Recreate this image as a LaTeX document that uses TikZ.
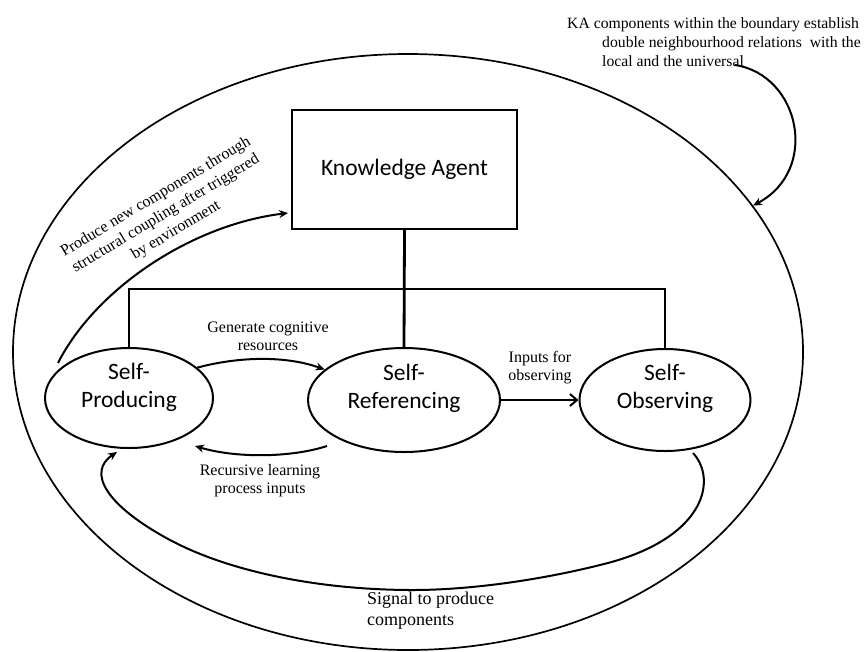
\documentclass[tikz,border=0pt]{standalone}
\usepackage{fontspec}
\setmainfont{Liberation Serif}
\newfontfamily\calfont{Carlito}
\usetikzlibrary{shapes.geometric,arrows.meta}

\begin{document}
\begin{tikzpicture}[x=1pt,y=-1pt,
  every node/.style={inner sep=0pt},
  stage/.style={ellipse,draw,line width=2pt},
  stagetext/.style={font=\calfont\fontsize{23.5}{28}\selectfont,align=center},
  agentbox/.style={draw,line width=2pt,font=\calfont\fontsize{23.5}{28}\selectfont},
  note/.style={font=\fontsize{16}{18}\selectfont,align=center},
  flow/.style={line width=2pt,-{Stealth[length=9pt,width=8pt]}},
  link/.style={line width=2pt}]
\useasboundingbox (0,0) rectangle (866,651);

% system boundary
\node[ellipse,draw,line width=1.7pt,minimum width=790pt,minimum height=596pt] (boundary) at (408,352) {};

% agent and its three components
\node[agentbox,minimum width=225pt,minimum height=119pt] (ka) at (404.5,169.5) {Knowledge Agent};
\node[stage,minimum width=168pt,minimum height=100pt] (sp) at (129,398) {};
\node[stage,minimum width=192pt,minimum height=104pt] (sr) at (404,400) {};
\node[stage,minimum width=171pt,minimum height=102pt] (so) at (665,400) {};
\node[stagetext] (sp-text) at ([yshift=11pt]sp.center) {Self-\\Producing};
\node[stagetext] (sr-text) at ([yshift=12pt]sr.center) {Self-\\Referencing};
\node[stagetext] (so-text) at ([yshift=12pt]so.center) {Self-\\Observing};

% tree joining the agent to its components
\coordinate (bar) at (404,289);
\draw[line width=2.8pt] (ka.south) -- (sr.north);
\draw[link] (sp.north) -- (sp.north |- bar) -- (so.north |- bar) -- (so.north);

% labels
\node[note] (gen) at (268,336) {Generate cognitive\\resources};
\node[note] (rec) at (260,481) {Recursive learning\\process inputs};
\node[note] (inp) at (540,368) {Inputs for\\observing};
\node[font=\fontsize{18}{21}\selectfont,align=left,anchor=west] (sig) at (367,611) {Signal to produce\\components};
\node[note,font=\fontsize{16}{19.5}\selectfont,rotate=31] (prod) at (166,214) {Produce new components through\\structural coupling after triggered\\by environment};
\node[font=\fontsize{15.7}{19}\selectfont,align=left,anchor=north west] (kanote) at (567,17) {KA components within the boundary establish\\\hspace*{35pt}double neighbourhood relations~ with the\\\hspace*{35pt}local and the universal};

% flows between components
\draw[flow] (sp.24) .. controls (245,355) and (290,357) .. (sr.159);
\coordinate (rec-start) at (327,446);
\coordinate (rec-end) at (195,446);
\draw[flow] (rec-start) .. controls (290,458) and (235,458) .. (rec-end);
\draw[line width=2pt,-{Straight Barb[length=7pt,width=12pt]}] (sr.east) -- (so.west);

% feedback loop back to production
\coordinate (sig-start) at (693,453);
\coordinate (sig-end) at (117,452);
\draw[flow] (sig-start) .. controls (718,480) and (705,540) .. (600,565)
  .. controls (540,580) and (470,590) .. (413,590)
  .. controls (320,590) and (230,572) .. (170,540)
  .. controls (105,505) and (87,472) .. (sig-end);

% production triggered by the environment
\coordinate (prod-start) at (58,363);
\draw[flow] (prod-start) .. controls (95,290) and (190,225) .. ([xshift=-3pt,yshift=17pt]ka.south west);

% note pointing at the boundary
\coordinate (note-start) at (735,65);
\draw[flow] (note-start) .. controls (800,75) and (820,170) .. (boundary.23);
\end{tikzpicture}
\end{document}
